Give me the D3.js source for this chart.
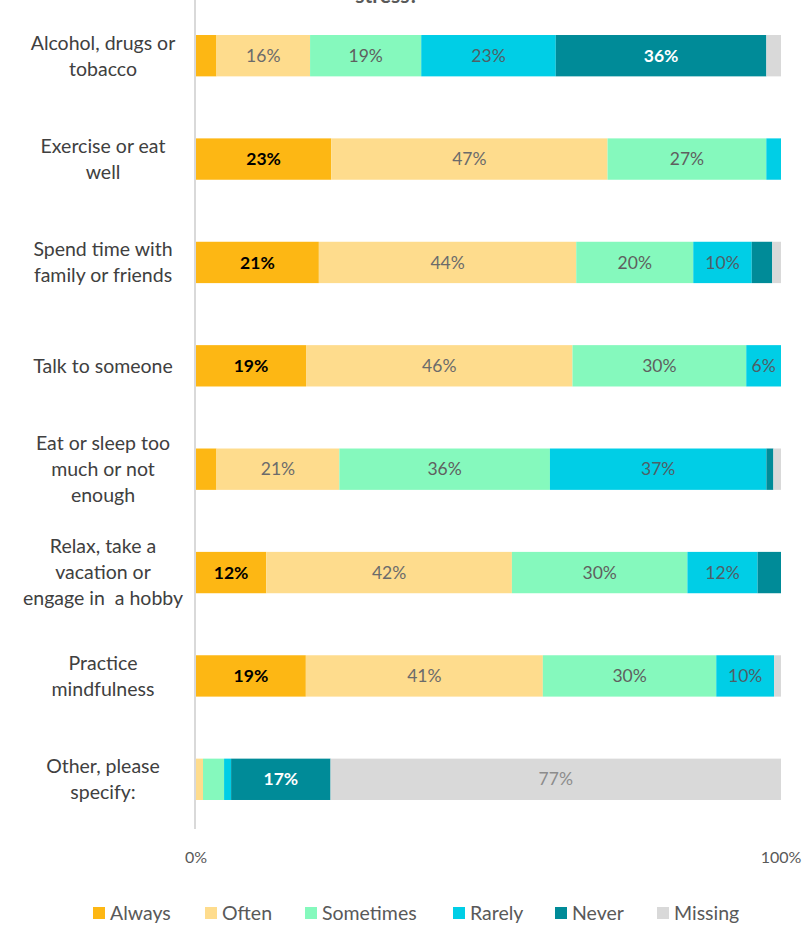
<!DOCTYPE html>
<html>
<head>
<meta charset="utf-8">
<script src="https://cdn.jsdelivr.net/npm/d3@7"></script>
<style>
  html, body { margin: 0; padding: 0; background: #fff; }
  svg { display: block; font-family: Lato, "Open Sans", sans-serif; }
  text, tspan { white-space: pre; }
</style>
</head>
<body>
<svg id="chart" width="804" height="926"></svg>
<script>
// Response categories, in stacking order
const responses = ["Always", "Often", "Sometimes", "Rarely", "Never", "Missing"];
const colors = ["#fdb714", "#fedc8d", "#85f9bd", "#00cee6", "#008b98", "#d9d9d9"];

// Coping activities (label lines)
const activities = [
  ["Alcohol, drugs or", "tobacco"],
  ["Exercise or eat", "well"],
  ["Spend time with", "family or friends"],
  ["Talk to someone"],
  ["Eat or sleep too", "much or not", "enough"],
  ["Relax, take a", "vacation or", "engage in  a hobby"],
  ["Practice", "mindfulness"],
  ["Other, please", "specify:"]
];

// Share of respondents (%) per response, one array per response
const always    = [3.5, 23, 21, 19, 3.5, 12, 19, 0];
const often     = [16, 47, 44, 46, 21, 42, 41, 1.2];
const sometimes = [19, 27, 20, 30, 36, 30, 30, 3.6];
const rarely    = [23, 2.5, 10, 6, 37, 12, 10, 1.2];
const never     = [36, 0, 3.5, 0, 1.2, 4, 0, 17];
const missing   = [2.5, 0, 1.5, 0, 1.3, 0, 1.2, 77];

const tickLabels = ["0%", "100%"];
const title = "stress?";

const series = [always, often, sometimes, rarely, never, missing];
const rows = activities.map((a, i) => {
  const r = { key: i };
  responses.forEach((k, j) => { r[k] = series[j][i]; });
  return r;
});

const svg = d3.select("#chart");
const x = d3.scaleLinear().domain([0, 1]).range([196, 781]);
const y = d3.scaleBand().domain(d3.range(activities.length)).range([4, 831]).paddingInner(0.6).paddingOuter(0.3);
const color = d3.scaleOrdinal().domain(responses).range(colors);

// Each row is shown as shares of its own total
const stack = d3.stack().keys(responses).offset(d3.stackOffsetExpand);
const stacked = stack(rows);

// Title (its last line sits at the top edge)
svg.append("text")
  .attr("x", 387).attr("y", 3)
  .attr("text-anchor", "middle")
  .attr("font-size", 21).attr("font-weight", 700)
  .attr("fill", "#595959")
  .text(title);

// Vertical category axis line
svg.append("line")
  .attr("x1", 195).attr("x2", 195)
  .attr("y1", 0).attr("y2", 829)
  .attr("stroke", "#d9d9d9").attr("stroke-width", 2);

// Bars
const groups = svg.append("g").selectAll("g")
  .data(stacked).join("g")
  .attr("fill", d => color(d.key));

groups.selectAll("rect")
  .data(d => d.map(s => ({ s, key: d.key })))
  .join("rect")
  .attr("x", d => x(d.s[0]))
  .attr("width", d => Math.max(0, x(d.s[1]) - x(d.s[0])))
  .attr("y", d => y(d.s.data.key))
  .attr("height", y.bandwidth());

// Value labels
const labelStyle = {
  Always: { fill: "#000000", weight: 700 },
  Often: { fill: "#6b6b6b", weight: 400 },
  Sometimes: { fill: "#5f5f5f", weight: 400 },
  Rarely: { fill: "#4f5f66", weight: 400 },
  Never: { fill: "#ffffff", weight: 700 },
  Missing: { fill: "#8c8c8c", weight: 400 }
};
const labels = [];
stacked.forEach(layer => {
  layer.forEach(s => {
    const v = s.data[layer.key];
    if (v >= 5) labels.push({ key: layer.key, s, v });
  });
});
svg.append("g").selectAll("text")
  .data(labels).join("text")
  .attr("x", d => (x(d.s[0]) + x(d.s[1])) / 2)
  .attr("y", d => y(d.s.data.key) + y.bandwidth() / 2)
  .attr("dy", "0.35em")
  .attr("text-anchor", "middle")
  .attr("font-size", 17.5)
  .attr("font-weight", d => labelStyle[d.key].weight)
  .attr("fill", d => labelStyle[d.key].fill)
  .text(d => Math.round(d.v) + "%");

// Category labels
const lineH = 26;
const cat = svg.append("g").selectAll("text")
  .data(activities).join("text")
  .attr("text-anchor", "middle")
  .attr("font-size", 19.5)
  .attr("fill", "#404040");
cat.each(function (lines, i) {
  const cy = y(i) + y.bandwidth() / 2;
  const top = cy - (lines.length - 1) * lineH / 2;
  d3.select(this).selectAll("tspan")
    .data(lines).join("tspan")
    .attr("x", 103)
    .attr("y", (d, k) => top + k * lineH)
    .attr("dy", "0.35em")
    .text(d => d);
});

// Value axis tick labels
svg.append("g").selectAll("text")
  .data(tickLabels).join("text")
  .attr("x", (d, i) => x(i))
  .attr("y", 857)
  .attr("dy", "0.35em")
  .attr("text-anchor", "middle")
  .attr("font-size", 16)
  .attr("fill", "#595959")
  .text(d => d);

// Legend
const legendX = [93, 205, 305, 453, 555, 657];
const legend = svg.append("g").selectAll("g")
  .data(responses).join("g")
  .attr("transform", (d, i) => `translate(${legendX[i]},913)`);
legend.append("rect")
  .attr("x", 0).attr("y", -6).attr("width", 12).attr("height", 12)
  .attr("fill", d => color(d));
legend.append("text")
  .attr("x", 17).attr("y", 0).attr("dy", "0.35em")
  .attr("font-size", 19.5)
  .attr("fill", "#595959")
  .text(d => d);
</script>
</body>
</html>
